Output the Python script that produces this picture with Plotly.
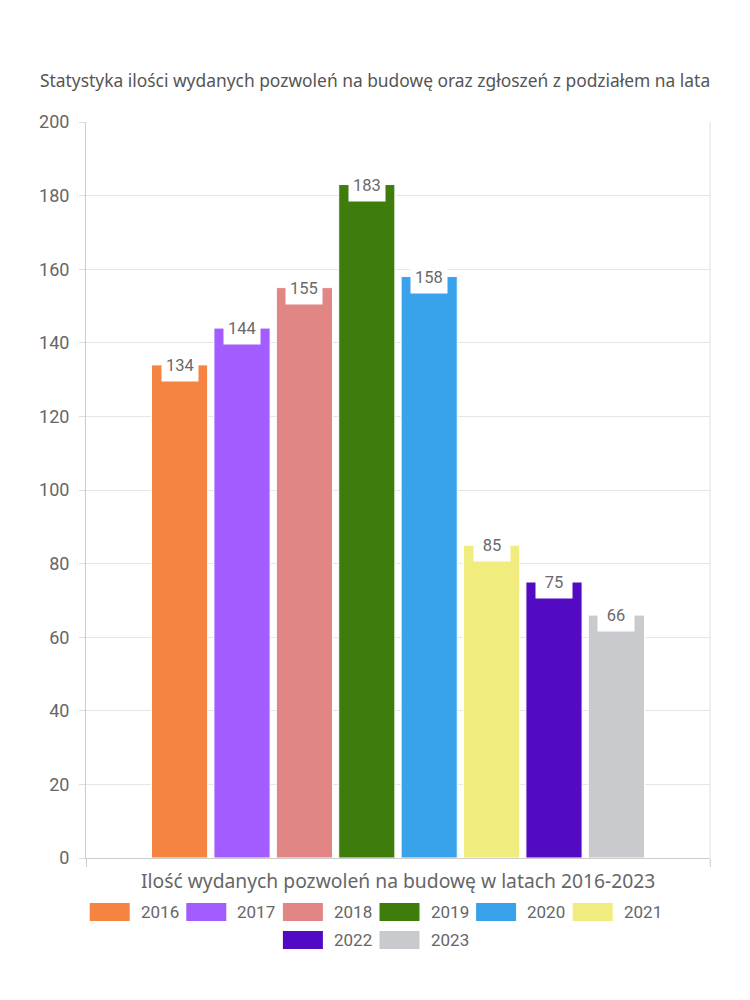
import plotly.graph_objects as go

years = ["2016", "2017", "2018", "2019", "2020", "2021", "2022", "2023"]
values = [134, 144, 155, 183, 158, 85, 75, 66]
colors = ["#F58442", "#A25CFF", "#E28585", "#3E7C0C", "#38A3EB", "#F0EC7E", "#520BC2", "#C9CACD"]
y_ticks = [0, 20, 40, 60, 80, 100, 120, 140, 160, 180, 200]

title_text = "Statystyka ilości wydanych pozwoleń na budowę oraz zgłoszeń z podziałem na lata"
x_title = "Ilość wydanych pozwoleń na budowę w latach 2016-2023"

OFF = 8  # page body margin
W, H = 742, 992
ML, MR, MT, MB = 78, 40, 114, 142
PW, PH = W - ML - MR, H - MT - MB

def px_x(px):
    return (px - OFF - ML) / PW

def px_y(py):
    return (OFF + H - MB - py) / PH

fig = go.Figure()
for i, (yr, v, c) in enumerate(zip(years, values, colors)):
    fig.add_trace(go.Bar(
        x=[i], y=[v], name=yr, width=0.9,
        marker=dict(color=c, line=dict(color="white", width=1)),
        showlegend=False,
        hovertemplate=yr + ": %{y}<extra></extra>",
    ))

annotations = []
for i, v in enumerate(values):
    annotations.append(dict(
        x=i, y=v, xref="x", yref="y", text=str(v), showarrow=False,
        font=dict(family="Roboto", size=16.5, color="#6a6a6a"),
        bgcolor="white", width=32, height=28, borderpad=2,
        xanchor="center", yanchor="middle", yshift=0,
    ))

# title
annotations.append(dict(
    x=px_x(375), y=px_y(80), xref="paper", yref="paper", text=title_text, showarrow=False,
    font=dict(family="Noto Sans", size=17.4, color="#555555"), xanchor="center", yanchor="middle",
))

# x axis title
annotations.append(dict(
    x=px_x(398), y=px_y(880), xref="paper", yref="paper", text=x_title, showarrow=False,
    font=dict(family="Noto Sans", size=19.3, color="#666666"), xanchor="center", yanchor="middle",
))

# custom legend
shapes = []
item_w = 96.6
sw_w, sw_h = 40, 18
rows = [list(range(0, 6)), list(range(6, 8))]
row_y = [912, 940]
for r, idxs in enumerate(rows):
    n = len(idxs)
    total = n * item_w - 9
    start = 375 - total / 2
    for k, idx in enumerate(idxs):
        x0 = start + k * item_w
        cy = row_y[r]
        shapes.append(dict(
            type="rect", xref="paper", yref="paper",
            x0=px_x(x0), x1=px_x(x0 + sw_w), y0=px_y(cy - sw_h / 2), y1=px_y(cy + sw_h / 2),
            fillcolor=colors[idx], line=dict(width=0),
        ))
        annotations.append(dict(
            x=px_x(x0 + sw_w + 9), y=px_y(cy), xref="paper", yref="paper", text=years[idx],
            showarrow=False, xanchor="left", yanchor="middle",
            font=dict(family="Roboto", size=17, color="#666666"),
        ))

# right border
shapes.append(dict(type="line", xref="paper", yref="paper", x0=1, x1=1, y0=px_y(866), y1=1,
                   line=dict(color="#e0e0e0", width=1)))

fig.update_layout(
    width=W, height=H,
    margin=dict(l=ML, r=MR, t=MT, b=MB, pad=0),
    paper_bgcolor="white", plot_bgcolor="white",
    barmode="overlay",
    showlegend=False,
    annotations=annotations,
    shapes=shapes,
    xaxis=dict(
        range=[-1.5, 8.5], tickmode="array", tickvals=[-1.5, 8.5], ticktext=["", ""],
        ticks="outside", ticklen=8, tickcolor="#cccccc", tickwidth=1,
        showline=True, linecolor="#cccccc", linewidth=1, showgrid=False, zeroline=False,
        fixedrange=True,
    ),
    yaxis=dict(
        range=[0, 200], tickmode="array", tickvals=y_ticks,
        ticks="outside", ticklen=6, tickcolor="#dddddd", tickwidth=1,
        showline=True, linecolor="#cccccc", linewidth=1, mirror=False,
        showgrid=True, gridcolor="#e6e6e6", gridwidth=1, zeroline=False,
        tickfont=dict(family="Roboto", size=18, color="#666666"),
        ticklabelstandoff=6,
    ),
)

fig.write_html("out.html")
